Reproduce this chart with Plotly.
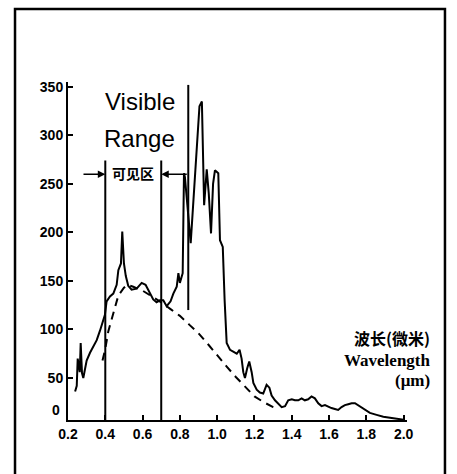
import plotly.graph_objects as go

# ---- data ----
solid_x = [0.238, 0.247, 0.252, 0.258, 0.263, 0.268, 0.275, 0.282, 0.29, 0.30, 0.318, 0.336, 0.354,
           0.372, 0.386, 0.398, 0.407, 0.425, 0.443, 0.461, 0.47, 0.484, 0.491, 0.50, 0.51, 0.523,
           0.541, 0.568, 0.595, 0.616, 0.63, 0.657, 0.675, 0.693, 0.711, 0.729, 0.75, 0.765, 0.783,
           0.792, 0.80, 0.81, 0.815, 0.822, 0.827, 0.858, 0.905, 0.918, 0.93, 0.944, 0.955, 0.967,
           0.978, 0.988, 1.006, 1.015, 1.03, 1.04, 1.047, 1.051, 1.069, 1.086, 1.105, 1.12, 1.131,
           1.14, 1.149, 1.161, 1.172, 1.185, 1.194, 1.212, 1.229, 1.247, 1.265, 1.28, 1.292, 1.31,
           1.328, 1.346, 1.364, 1.381, 1.40, 1.417, 1.435, 1.453, 1.47, 1.488, 1.506, 1.524, 1.542,
           1.56, 1.578, 1.596, 1.613, 1.631, 1.649, 1.667, 1.685, 1.703, 1.721, 1.739, 1.756, 1.774,
           1.792, 1.819, 1.855, 1.891, 1.927, 1.963, 2.0]
solid_y = [36, 42, 70, 62, 56, 86, 55, 50, 58, 68, 76, 82, 89,
           99, 108, 115, 129, 134, 137, 146, 161, 168, 201, 168, 155, 145,
           141, 142, 148, 146, 141, 131, 128, 130, 130, 124, 129, 137, 144,
           158, 148, 155, 158, 261, 257, 189, 330, 335, 228, 265, 240, 199,
           250, 264, 261, 192, 185, 130, 100, 86, 79, 77, 75, 79, 70,
           56, 50, 60, 67, 56, 45, 38, 35, 34, 43, 40, 32, 27,
           24, 20, 21, 27, 28, 27, 27, 29, 27, 28, 31, 29, 24,
           21, 22, 20, 19, 18, 17, 20, 22, 23, 24, 24, 22, 20,
           17, 14, 12, 10, 9, 8, 7]

dash_x = [0.385, 0.40, 0.416, 0.435, 0.452, 0.47, 0.50, 0.52, 0.55, 0.60, 0.65, 0.70, 0.75,
          0.80, 0.85, 0.90, 0.95, 1.00, 1.05, 1.10, 1.15, 1.20, 1.25, 1.30, 1.33]
dash_y = [68, 80, 98, 112, 124, 135, 143, 146, 144, 140, 134, 128, 121,
          114, 105, 96, 85, 73, 62, 51, 41, 31, 25, 20, 18]

spike_x = 0.845
spike_range = [120, 352]
visible_bounds = [0.4, 0.7]
bound_top = 274
arrow_level = 260
arrow_starts = [0.275, 0.845]

y_ticks = [50, 100, 150, 200, 250, 300, 350]
x_ticks = [0.2, 0.4, 0.6, 0.8, 1.0, 1.2, 1.4, 1.6, 1.8, 2.0]
x_ticktext = ["0.2", "0.4", "0.6", "0.8", "1.0", "1.2", "1.4", "1.6", "1.8", "2.0"]

Y_MIN, Y_MAX = 6.7, 355
X_MIN, X_MAX = 0.2, 2.018

fig = go.Figure()
fig.add_trace(go.Scatter(x=dash_x, y=dash_y, mode="lines",
                         line=dict(color="black", width=2, dash="8px,6px"), hoverinfo="skip"))
fig.add_trace(go.Scatter(x=solid_x, y=solid_y, mode="lines",
                         line=dict(color="black", width=2), hoverinfo="skip"))

shapes = []
for bx in visible_bounds:
    shapes.append(dict(type="line", xref="x", yref="y", x0=bx, x1=bx, y0=Y_MIN, y1=bound_top,
                       line=dict(color="black", width=2)))
shapes.append(dict(type="line", xref="x", yref="y", x0=spike_x, x1=spike_x,
                   y0=spike_range[0], y1=spike_range[1], line=dict(color="black", width=2)))
# outer frame
shapes.append(dict(type="rect", xref="paper", yref="paper", x0=-0.1563, x1=1.112, y0=-0.2, y1=1.216,
                   line=dict(color="black", width=2.5), layer="above"))

tick_font = dict(family="Liberation Sans, Arial", size=14, color="black", weight="bold")

annotations = [
    dict(x=0.586, y=334.5, xref="x", yref="y", text="Visible", showarrow=False,
         font=dict(family="Liberation Sans, Arial", size=24, color="black")),
    dict(x=0.586, y=297, xref="x", yref="y", text="Range", showarrow=False,
         font=dict(family="Liberation Sans, Arial", size=24, color="black")),
    dict(x=0.55, y=arrow_level + 1, xref="x", yref="y", text="可见区", showarrow=False,
         font=dict(family="Noto Sans CJK SC", size=14, color="black", weight="bold")),
    dict(x=visible_bounds[0], y=arrow_level, ax=arrow_starts[0], ay=arrow_level,
         xref="x", yref="y", axref="x", ayref="y", text="", showarrow=True,
         arrowhead=2, arrowsize=1, arrowwidth=1.5, arrowcolor="black"),
    dict(x=visible_bounds[1], y=arrow_level, ax=arrow_starts[1], ay=arrow_level,
         xref="x", yref="y", axref="x", ayref="y", text="", showarrow=True,
         arrowhead=2, arrowsize=1, arrowwidth=1.5, arrowcolor="black"),
    dict(x=-0.018, y=17, xref="paper", yref="y", text="0", showarrow=False, xanchor="right",
         font=tick_font),
    dict(x=1.074, y=0.201, xref="paper", yref="paper", text="波长(微米)", showarrow=False,
         xanchor="right", font=dict(family="Noto Sans CJK SC", size=16, color="black", weight="bold")),
    dict(x=1.074, y=0.142, xref="paper", yref="paper", text="Wavelength", showarrow=False,
         xanchor="right", font=dict(family="Liberation Serif", size=17, color="black", weight="bold")),
    dict(x=1.074, y=0.083, xref="paper", yref="paper", text="(μm)", showarrow=False,
         xanchor="right", font=dict(family="Liberation Serif", size=17, color="black", weight="bold")),
]

fig.update_layout(
    width=457, height=474,
    margin=dict(l=68, r=50, t=82, b=54),
    paper_bgcolor="white", plot_bgcolor="white",
    showlegend=False,
    shapes=shapes, annotations=annotations,
    xaxis=dict(range=[X_MIN, X_MAX], showgrid=False, zeroline=False, showline=True,
               linecolor="black", linewidth=2, ticks="inside", ticklen=5, tickwidth=2,
               tickcolor="black", tickvals=x_ticks, ticktext=x_ticktext, tickfont=tick_font),
    yaxis=dict(range=[Y_MIN, Y_MAX], showgrid=False, zeroline=False, showline=True,
               linecolor="black", linewidth=2, ticks="inside", ticklen=5, tickwidth=2,
               tickcolor="black", tickvals=y_ticks, tickfont=tick_font),
)

fig.write_html("out.html", config={"displayModeBar": False},
               post_script="document.body.style.margin='0';")
